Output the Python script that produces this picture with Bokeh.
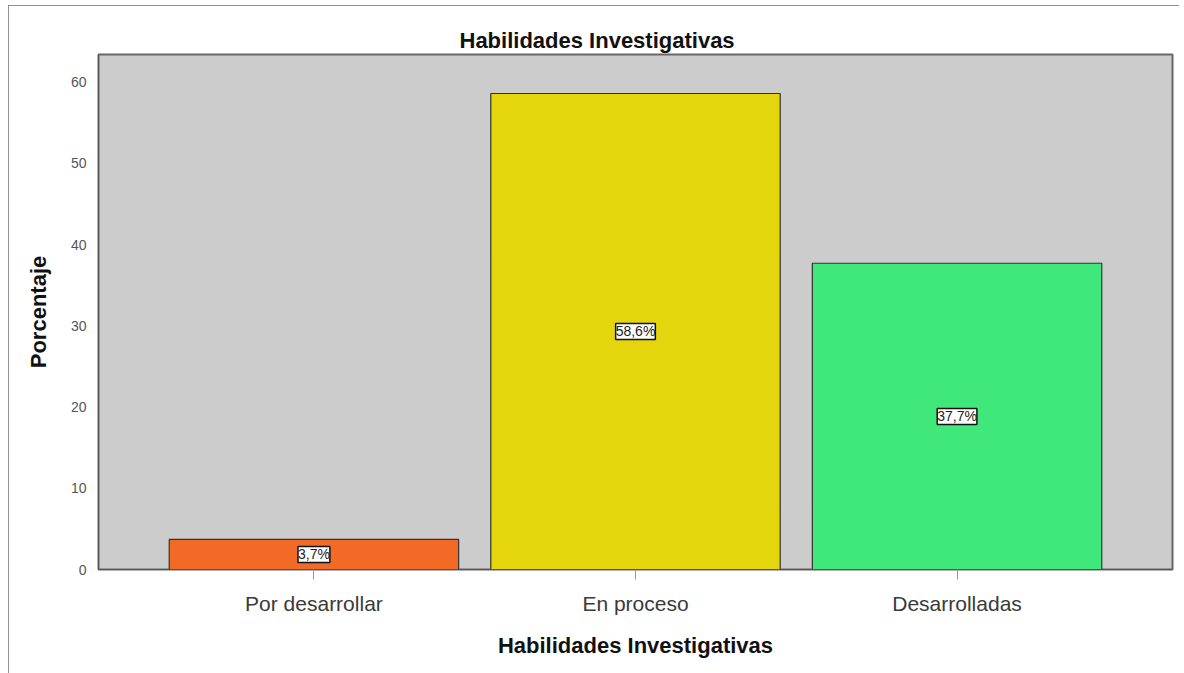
from bokeh.plotting import figure
from bokeh.models import ColumnDataSource, Range1d, FixedTicker, LabelSet
from bokeh.core.properties import value
from bokeh.embed import file_html
from bokeh.resources import INLINE

categories = ["Por desarrollar", "En proceso", "Desarrolladas"]
values = [3.7, 58.6, 37.7]
labels = ["3,7%", "58,6%", "37,7%"]
colors = ["#F26A25", "#E5D50C", "#40E87C"]
y_ticks = [0, 10, 20, 30, 40, 50, 60]

xs = list(range(len(categories)))
src = ColumnDataSource(dict(x=xs, top=values, mid=[v / 2 for v in values],
                            lab=labels, color=colors))

p = figure(width=1171, height=668, output_backend="svg", toolbar_location=None,
           x_range=Range1d(-0.67, 2.67), y_range=Range1d(0, 63.4),
           title="Habilidades Investigativas",
           min_border_left=90, min_border_right=7, min_border_top=49, min_border_bottom=104)
p.styles = {"margin-left": "8px", "margin-top": "5px",
            "outline": "2px solid #6e6e6e", "outline-offset": "-2px"}

p.vbar(x="x", top="top", width=0.9, bottom=0, source=src, fill_color="color",
       line_color="#333333", line_width=1.2)

p.add_layout(LabelSet(x="x", y="mid", text="lab", source=src, text_align="center",
                      text_baseline="middle", text_font=value("Liberation Sans"),
                      text_font_size="14px", text_color="#222222",
                      background_fill_color="white", border_line_color="#111111",
                      border_line_width=1.5))

p.background_fill_color = "#CCCCCC"
p.border_fill_color = "white"
p.outline_line_color = "#666666"
p.outline_line_width = 2
p.grid.visible = False

p.title.align = "left"
p.title.text_font = "Liberation Sans"
p.title.text_font_size = "22px"
p.title.text_font_style = "bold"
p.title.text_color = "#111111"
p.title.offset = 361
p.title.standoff = 4

p.xaxis.ticker = FixedTicker(ticks=xs)
p.xaxis.major_label_overrides = {i: c for i, c in enumerate(categories)}
p.xaxis.major_label_text_font = "Liberation Sans"
p.xaxis.major_label_text_font_size = "21px"
p.xaxis.major_label_text_color = "#3a3a3a"
p.xaxis.major_label_standoff = 12
p.xaxis.major_tick_out = 10
p.xaxis.major_tick_in = 0
p.xaxis.major_tick_line_color = "#999999"
p.xaxis.minor_tick_line_color = None
p.xaxis.axis_line_color = "#555555"
p.xaxis.axis_label = "Habilidades Investigativas"
p.xaxis.axis_label_text_font = "Liberation Sans"
p.xaxis.axis_label_text_font_size = "22px"
p.xaxis.axis_label_text_font_style = "bold"
p.xaxis.axis_label_text_color = "#111111"
p.xaxis.axis_label_standoff = 15

p.yaxis.ticker = FixedTicker(ticks=y_ticks)
p.yaxis.major_label_text_font = "Liberation Sans"
p.yaxis.major_label_text_font_size = "14px"
p.yaxis.major_label_text_color = "#555555"
p.yaxis.major_tick_line_color = None
p.yaxis.minor_tick_line_color = None
p.yaxis.major_label_standoff = 6
p.yaxis.axis_line_color = "#555555"
p.yaxis.axis_label = "Porcentaje"
p.yaxis.axis_label_text_font = "Liberation Sans"
p.yaxis.axis_label_text_font_size = "22px"
p.yaxis.axis_label_text_font_style = "bold"
p.yaxis.axis_label_text_color = "#111111"
p.yaxis.axis_label_standoff = 17

open("out.html", "w").write(file_html(p, INLINE))
